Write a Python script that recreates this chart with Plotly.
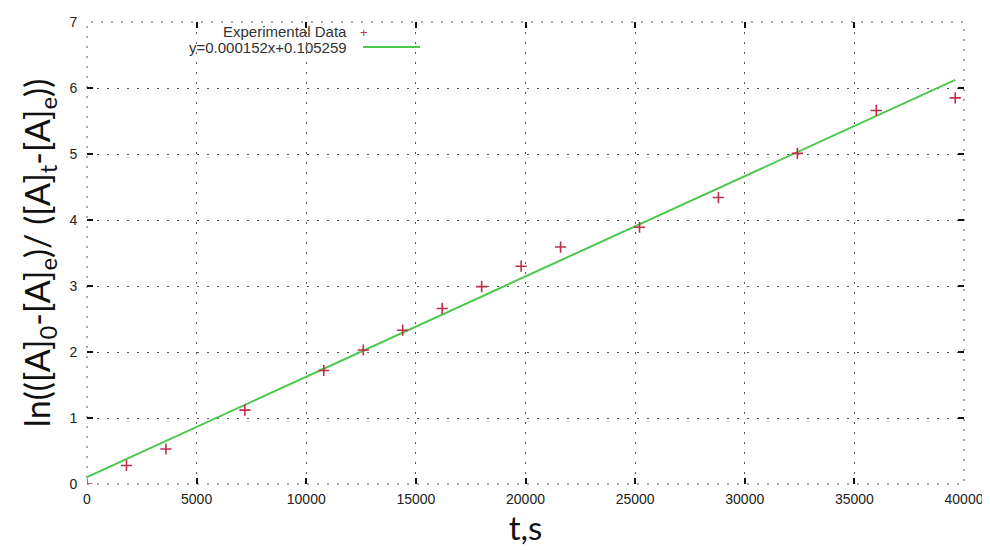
import plotly.graph_objects as go

# Data
time_s = [0, 1800, 3600, 7200, 10800, 12600, 14400, 16200, 18000, 19800,
          21600, 25200, 28800, 32400, 36000, 39600]
ln_ratio = [0.0, 0.28, 0.53, 1.12, 1.72, 2.03, 2.33, 2.66, 2.99, 3.30,
            3.59, 3.89, 4.34, 5.01, 5.66, 5.85]

fit_t = [0, 39600]
fit_y = [0.105, 6.124]

x_ticks = [0, 5000, 10000, 15000, 20000, 25000, 30000, 35000, 40000]
x_tick_labels = ["0", "5000", "10000", "15000", "20000", "25000", "30000", "35000", "40000"]
y_ticks = [0, 1, 2, 3, 4, 5, 6, 7]
y_tick_labels = ["0", "1", "2", "3", "4", "5", "6", "7"]

legend_points = "Experimental Data"
legend_fit = "y=0.000152x+0.105259"

fig = go.Figure()
fig.add_trace(go.Scatter(
    x=fit_t, y=fit_y, mode="lines", name=legend_fit,
    line=dict(color="#4cc94c", width=2), showlegend=False))
fig.add_trace(go.Scatter(
    x=time_s, y=ln_ratio, mode="markers", name=legend_points,
    marker=dict(symbol="cross-thin", size=8,
                line=dict(color="#c02f45", width=1.6)),
    showlegend=False))

tickfont = dict(family="Liberation Sans, Arial, sans-serif", size=14, color="#222222")
grid_kw = dict(showgrid=True, gridcolor="#555555", gridwidth=1, griddash="2px,8px",
               zeroline=False, showline=True, linecolor="rgba(0,0,0,0)", linewidth=1,
               ticks="inside", ticklen=6, tickwidth=2, tickcolor="#111111",
               mirror="ticks", tickfont=tickfont, automargin=False)

fig.update_xaxes(range=[0, 40000], tickvals=x_ticks, ticktext=x_tick_labels,
                 title=dict(text="t,s", font=dict(family="Lato, sans-serif", size=33, color="#111111"),
                            standoff=8),
                 ticklabelstandoff=2, **grid_kw)
fig.update_yaxes(range=[0, 7], tickvals=y_ticks, ticktext=y_tick_labels,
                 title=dict(text="ln(([A]<sub>0</sub>-[A]<sub>e</sub>)/ ([A]<sub>t</sub>-[A]<sub>e</sub>))",
                            font=dict(family="Lato, sans-serif", size=34, color="#111111"),
                            standoff=8),
                 ticklabelstandoff=6, **grid_kw)

# dotted frame (gnuplot grid at the range edges)
fig.add_shape(type="rect", xref="paper", yref="paper", x0=0, x1=1, y0=0, y1=1,
              line=dict(color="#555555", width=1, dash="2px,8px"), layer="below")

legfont = dict(family="Liberation Sans, Arial, sans-serif", size=15, color="#333333")
fig.add_annotation(xref="paper", yref="paper", x=0.2988, y=0.9805, text=legend_points,
                   showarrow=False, xanchor="right", yanchor="middle", font=legfont)
fig.add_annotation(xref="paper", yref="paper", x=0.2988, y=0.9458, text=legend_fit,
                   showarrow=False, xanchor="right", yanchor="middle", font=legfont)
fig.add_annotation(xref="paper", yref="paper", x=0.3158, y=0.978, text="+",
                   showarrow=False, xanchor="center", yanchor="middle",
                   font=dict(family="Liberation Sans", size=13, color="#c02f45"))
fig.add_shape(type="line", xref="paper", yref="paper", x0=0.3147, x1=0.3797,
              y0=0.9458, y1=0.9458, line=dict(color="#4cc94c", width=2))

# the page adds an 8px body margin, so the figure is slightly smaller
fig.update_layout(
    width=982, height=542,
    margin=dict(l=79, r=26, t=14, b=66),
    plot_bgcolor="white", paper_bgcolor="white",
    showlegend=False,
)

fig.write_html("out.html")
